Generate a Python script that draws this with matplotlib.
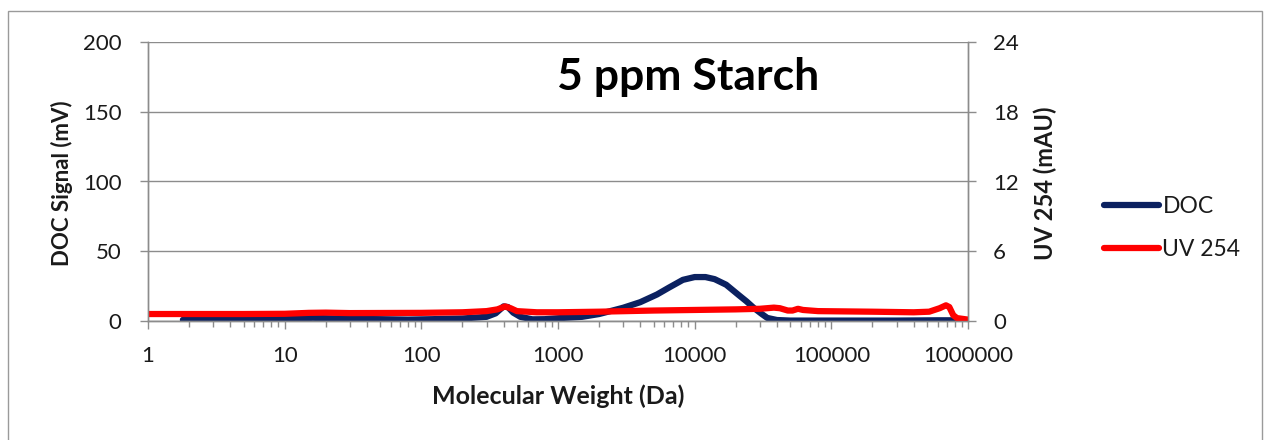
import matplotlib
matplotlib.use("Agg")
import matplotlib.pyplot as plt
from matplotlib.ticker import FixedLocator, FuncFormatter, LogLocator, NullFormatter
from matplotlib.patches import Rectangle

# ---- data ----
doc_mw = [1.8, 3, 5, 8, 12, 16, 20, 30, 50, 80, 120, 200, 300, 350, 400, 430, 470,
          530, 650, 800, 1000, 1500, 2000, 3000, 4000, 5300, 6500, 8200, 10000,
          12000, 14000, 17000, 21000, 24000, 27000, 31000, 34000, 40000, 50000,
          100000, 300000, 600000, 800000, 900000]
doc_mv = [0.8, 0.8, 1.0, 1.2, 1.6, 2.3, 2.0, 1.5, 1.3, 1.0, 1.3, 1.8, 3.0, 5.5, 10.5,
          10.0, 6.0, 3.0, 1.2, 1.3, 2.0, 3.0, 5.0, 9.5, 13.5, 19.0, 24.0, 29.5, 31.5,
          31.5, 30.0, 26.0, 18.6, 14.0, 9.5, 5.0, 2.2, 0.7, 0.3, 0.3, 0.3, 0.5, 0.5, 0.3]

uv_mw = [1, 5, 10, 15, 20, 30, 100, 200, 300, 360, 410, 450, 500, 700, 1000, 2000,
         5000, 10000, 20000, 30000, 38000, 42000, 48000, 52000, 57000, 62000, 80000,
         200000, 400000, 520000, 620000, 690000, 730000, 780000, 830000, 1000000]
uv_mau = [0.6, 0.6, 0.62, 0.7, 0.72, 0.68, 0.7, 0.75, 0.85, 1.0, 1.25, 1.1, 0.85, 0.75,
          0.75, 0.8, 0.9, 0.95, 1.0, 1.05, 1.15, 1.1, 0.9, 0.9, 1.05, 0.95, 0.85, 0.8,
          0.75, 0.8, 1.1, 1.35, 1.2, 0.5, 0.25, 0.12]

x_ticks = [1, 10, 100, 1000, 10000, 100000, 1000000]
left_ticks = [0, 50, 100, 150, 200]
right_ticks = [0, 6, 12, 18, 24]

title = "5 ppm Starch"
xlabel = "Molecular Weight (Da)"
ylabel_left = "DOC Signal (mV)"
ylabel_right = "UV 254 (mAU)"

# ---- style ----
plt.rcParams['font.family'] = ['Lato', 'DejaVu Sans']
GRID = "#8c8c8c"
NAVY = "#0b2160"
RED = "#ff0000"
TXT = "#1a1a1a"
FS = 16

W, H = 1268, 440
fig = plt.figure(figsize=(W / 100, H / 100), dpi=100)
fig.patches.append(Rectangle((8 / W, -0.01), (1262 - 8) / W, 1 - 11 / H + 0.01,
                             transform=fig.transFigure, fill=False,
                             edgecolor="#9a9a9a", lw=1.0))

ax = fig.add_axes([148 / W, 1 - 321 / H, (968 - 148) / W, (321 - 42) / H])
ax2 = ax.twinx()

l1, = ax.plot(doc_mw, doc_mv, color=NAVY, lw=4.5, solid_capstyle='round',
              solid_joinstyle='round', label="DOC")
l2, = ax2.plot(uv_mw, uv_mau, color=RED, lw=4.5, solid_capstyle='round',
               solid_joinstyle='round', label="UV 254")

ax.set_xscale('log')
ax.set_xlim(1, 1000000)
ax.set_ylim(0, 200)
ax2.set_ylim(0, 24)

ax.xaxis.set_major_locator(FixedLocator(x_ticks))
ax.xaxis.set_major_formatter(FuncFormatter(lambda v, p: f"{int(round(v))}"))
ax.xaxis.set_minor_locator(LogLocator(base=10, subs=range(2, 10), numticks=20))
ax.xaxis.set_minor_formatter(NullFormatter())
ax.set_yticks(left_ticks)
ax2.set_yticks(right_ticks)

ax.yaxis.grid(True, color=GRID, lw=1.0)
ax.set_axisbelow(True)

for a in (ax, ax2):
    for s in a.spines.values():
        s.set_color(GRID)
        s.set_linewidth(1.0)
    a.spines['top'].set_visible(False)
    a.tick_params(which='both', color=GRID, width=1.0, labelcolor=TXT, labelsize=FS)

ax.tick_params(axis='y', which='major', length=6, pad=13)
ax2.tick_params(axis='y', which='major', length=6, pad=12)
ax.tick_params(axis='x', which='major', length=6, pad=12)
ax.tick_params(axis='x', which='minor', length=4)

ax.text((557 - 148) / 820, (321 - 90) / 279, title, transform=ax.transAxes,
        ha='left', va='baseline', fontsize=32, fontweight='bold', color='black')

ax.set_xlabel(xlabel, fontsize=18, fontweight='bold', color=TXT)
ax.xaxis.set_label_coords(0.5, (321 - 396) / 279)
ax.xaxis.label.set_va('center')
ax.set_ylabel(ylabel_left, fontsize=16, fontweight='bold', color=TXT)
ax.yaxis.set_label_coords((62 - 148) / 820, (321 - 183) / 279)
ax.yaxis.label.set_va('center')
ax2.set_ylabel(ylabel_right, fontsize=17, fontweight='bold', color=TXT)
ax2.yaxis.set_label_coords((1045 - 148) / 820, (321 - 183) / 279)
ax2.yaxis.label.set_va('center')

fig.legend(handles=[l1, l2], loc='center left', bbox_to_anchor=(1104 / W, 1 - 228 / H),
           frameon=False, fontsize=16.5, handlelength=2.4, handletextpad=0.15,
           labelspacing=0.93, labelcolor=TXT, borderpad=0, borderaxespad=0)

fig.savefig("out.png", dpi=100)
